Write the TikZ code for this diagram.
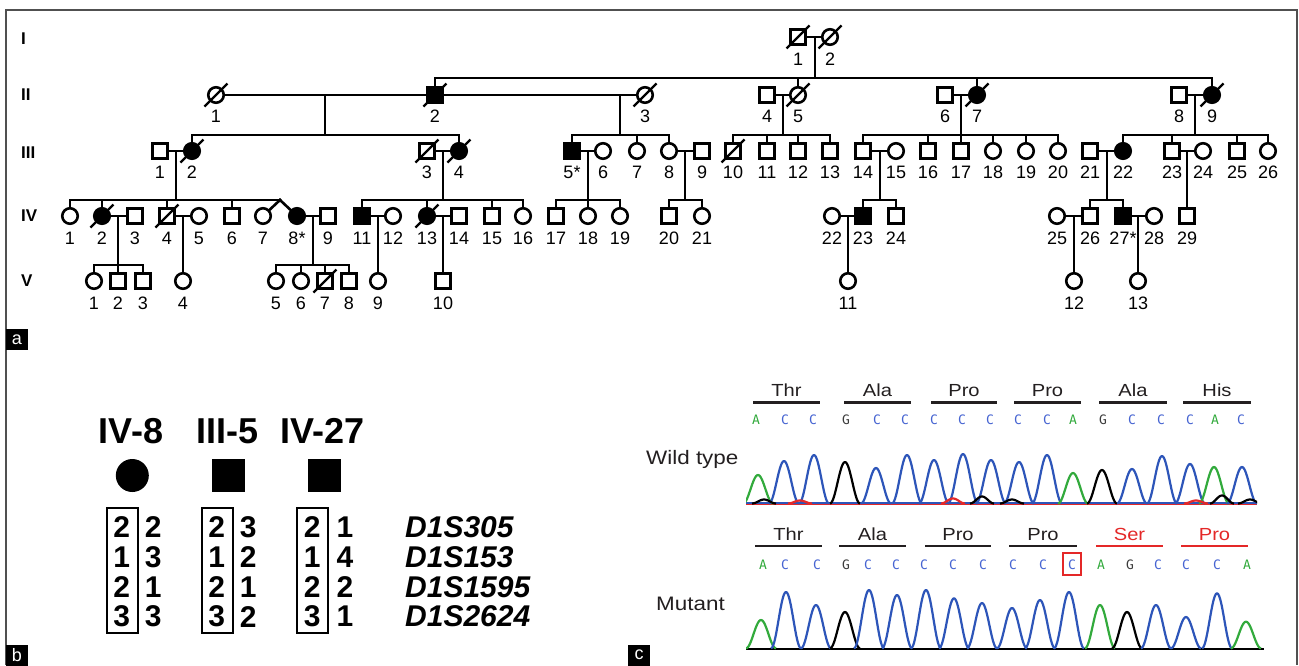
\documentclass[tikz,border=0pt]{standalone}
\usepackage{fontspec}
\setmainfont{Liberation Sans}
\newfontfamily\widesans[FakeStretch=1.15]{Liberation Sans}
\newfontfamily\basefont{DejaVu Sans Mono}
\usetikzlibrary{calc}
\definecolor{tblue}{RGB}{45,85,185}
\definecolor{lblue}{RGB}{70,100,210}
\definecolor{tgreen}{RGB}{50,170,60}
\definecolor{tred}{RGB}{228,40,40}
\definecolor{framec}{RGB}{80,80,80}
\definecolor{ink}{RGB}{35,31,32}
\definecolor{gbase}{RGB}{60,60,60}
\begin{document}
\begin{tikzpicture}[x=1pt,y=-1pt,
  pl/.style={line width=2.6pt,line cap=rect},
  sym/.style={draw,line width=2.6pt,inner sep=0pt,fill=white},
  mo/.style={sym,rectangle,minimum size=15pt},
  ma/.style={mo,fill=black},
  fo/.style={sym,circle,minimum size=15.5pt},
  fa/.style={fo,fill=black},
  lab/.style={inner sep=0pt,font=\fontsize{18}{18}\selectfont},
  gen/.style={inner sep=0pt,anchor=west,font=\fontsize{17}{17}\selectfont\bfseries},
  plabel/.style={fill=black,text=white,minimum width=22pt,minimum height=21pt,inner sep=0pt,font=\fontsize{18}{18}\selectfont},
  ttl/.style={inner sep=0pt,font=\fontsize{36}{36}\selectfont\bfseries},
  allele/.style={inner sep=0pt,font=\fontsize{30}{30}\selectfont\bfseries},
  marker/.style={inner sep=0pt,anchor=west,font=\fontsize{30}{30}\selectfont\bfseries\itshape},
  wide/.style={inner sep=0pt,text=ink,font=\fontsize{19.5}{20}\selectfont\widesans},
  codl/.style={inner sep=0pt,anchor=base,font=\fontsize{17.5}{18}\selectfont\widesans},
  cod/.style={line width=2.4pt},
  basel/.style={inner sep=0pt,font=\fontsize{13}{13}\selectfont\basefont},
  trace/.style={line width=2.2pt,line join=round}
]
\useasboundingbox (0,0) rectangle (1299,665);
\fill[white] (0,0) rectangle (1299,665);
\draw[framec,line width=1.3pt] (6,665) -- (6,10) -- (1297,10) -- (1297,665);

% ---------------- panel a : pedigree ----------------
\node[gen] (gI) at (21,39) {I};
\node[gen] (gII) at (21,95) {II};
\node[gen] (gIII) at (21,153) {III};
\node[gen] (gIV) at (21,216) {IV};
\node[gen] (gV) at (21,281) {V};

\foreach \x/\n/\s/\t in {798/1/mo/1,830/2/fo/2}
  {\node[\s] (g1-\n) at (\x,37) {}; \node[lab] (l1-\n) at (\x,59.5) {\t};}
\foreach \x/\n/\s/\t in {216/1/fo/1,435/2/ma/2,645/3/fo/3,767/4/mo/4,798/5/fo/5,945/6/mo/6,977/7/fa/7,1179/8/mo/8,1212/9/fa/9}
  {\node[\s] (g2-\n) at (\x,95) {}; \node[lab] (l2-\n) at (\x,116) {\t};}
\foreach \x/\n/\s/\t in {160/1/mo/1,192/2/fa/2,427/3/mo/3,459/4/fa/4,572/5/ma/5*,603/6/fo/6,637/7/fo/7,669/8/fo/8,702/9/mo/9,733/10/mo/10,767/11/mo/11,798/12/mo/12,830/13/mo/13,863/14/mo/14,896/15/fo/15,928/16/mo/16,961/17/mo/17,993/18/fo/18,1026/19/fo/19,1058/20/fo/20,1090/21/mo/21,1123/22/fa/22,1172/23/mo/23,1203/24/fo/24,1237/25/mo/25,1268/26/fo/26}
  {\node[\s] (g3-\n) at (\x,151) {}; \node[lab] (l3-\n) at (\x,172.5) {\t};}
\foreach \x/\n/\s/\t in {70/1/fo/1,102/2/fa/2,135/3/mo/3,167/4/mo/4,199/5/fo/5,232/6/mo/6,263/7/fo/7,297/8/fa/8*,328/9/mo/9,362/11/ma/11,393/12/fo/12,427/13/fa/13,459/14/mo/14,492/15/mo/15,523/16/fo/16,556/17/mo/17,588/18/fo/18,620/19/fo/19,669/20/mo/20,702/21/fo/21,832/22/fo/22,863/23/ma/23,896/24/mo/24,1057/25/fo/25,1090/26/mo/26,1123/27/ma/27*,1154/28/fo/28,1187/29/mo/29}
  {\node[\s] (g4-\n) at (\x,216) {}; \node[lab] (l4-\n) at (\x,238) {\t};}
\foreach \x/\n/\s/\t in {94/1/fo/1,118/2/mo/2,143/3/mo/3,183/4/fo/4,276/5/fo/5,301/6/fo/6,325/7/mo/7,349/8/mo/8,378/9/fo/9,443/10/mo/10,848/11/fo/11,1074/12/fo/12,1138/13/fo/13}
  {\node[\s] (g5-\n) at (\x,281) {}; \node[lab] (l5-\n) at (\x,303) {\t};}

\coordinate (sII) at (0,78);
\coordinate (sIII) at (0,135);
\coordinate (sIV) at (0,200);
\coordinate (sV) at (0,265);

\begin{scope}[pl]
% matings
\foreach \a/\b in {1-1/1-2,2-1/2-2,2-2/2-3,2-4/2-5,2-6/2-7,2-8/2-9,3-1/3-2,3-3/3-4,3-5/3-6,3-8/3-9,3-14/3-15,3-21/3-22,3-23/3-24,4-2/4-3,4-4/4-5,4-8/4-9,4-11/4-12,4-13/4-14,4-22/4-23,4-25/4-26,4-27/4-28}
  \draw (g\a.east) -- (g\b.west);
% generation I -> II
\coordinate (dI) at (815,37);
\draw (dI) -- (dI |- sII);
\draw (g2-2 |- sII) -- (g2-9 |- sII);
\foreach \k in {2,5,7,9} \draw (g2-\k |- sII) -- (g2-\k.north);
% generation II -> III
\coordinate (d21) at (325,95);
\coordinate (d22) at (620,95);
\coordinate (d24) at (783,95);
\coordinate (d26) at (961,95);
\coordinate (d28) at (1195,95);
\foreach \d in {d21,d22,d24,d26,d28} \draw (\d) -- (\d |- sIII);
\draw (g3-2 |- sIII) -- (g3-4 |- sIII);
\draw (g3-5 |- sIII) -- (g3-8 |- sIII);
\draw (g3-10 |- sIII) -- (g3-13 |- sIII);
\draw (g3-14 |- sIII) -- (g3-20 |- sIII);
\draw (g3-22 |- sIII) -- (g3-26 |- sIII);
\foreach \k in {2,4,5,7,8,10,11,12,13,14,16,17,18,19,20,22,23,25,26} \draw (g3-\k |- sIII) -- (g3-\k.north);
% generation III -> IV
\coordinate (d31) at (176,151);
\coordinate (d33) at (443,151);
\coordinate (d35) at (588,151);
\coordinate (d38) at (685,151);
\coordinate (d314) at (880,151);
\coordinate (d321) at (1107,151);
\coordinate (d323) at (1187,151);
\foreach \d in {d31,d33,d35,d38,d314,d321} \draw (\d) -- (\d |- sIV);
\draw (d323) -- (g4-29.north);
\coordinate (tw) at (280,200);
\draw (g4-1 |- sIV) -- (tw);
\draw (tw) -- (g4-7);
\draw (tw) -- (g4-8);
\draw (g4-11 |- sIV) -- (g4-16 |- sIV);
\draw (g4-17 |- sIV) -- (g4-19 |- sIV);
\draw (g4-20 |- sIV) -- (g4-21 |- sIV);
\draw (g4-23 |- sIV) -- (g4-24 |- sIV);
\draw (g4-26 |- sIV) -- (g4-27 |- sIV);
\foreach \k in {1,2,4,6,11,13,15,16,17,18,19,20,21,23,24,26,27} \draw (g4-\k |- sIV) -- (g4-\k.north);
% generation IV -> V
\coordinate (d42) at (118,216);
\coordinate (d48) at (313,216);
\foreach \d in {d42,d48} \draw (\d) -- (\d |- sV);
\draw (g5-1 |- sV) -- (g5-3 |- sV);
\draw (g5-5 |- sV) -- (g5-8 |- sV);
\foreach \k in {1,2,3,5,6,7,8} \draw (g5-\k |- sV) -- (g5-\k.north);
\coordinate (d44) at (183,216);
\coordinate (d411) at (378,216);
\coordinate (d413) at (443,216);
\coordinate (d422) at (848,216);
\coordinate (d425) at (1074,216);
\coordinate (d427) at (1138,216);
\draw (d44) -- (g5-4.north);
\draw (d411) -- (g5-9.north);
\draw (d413) -- (g5-10.north);
\draw (d422) -- (g5-11.north);
\draw (d425) -- (g5-12.north);
\draw (d427) -- (g5-13.north);
\end{scope}
% deceased
\foreach \p in {g1-1,g1-2,g2-1,g2-2,g2-3,g2-5,g2-7,g2-9,g3-2,g3-3,g3-4,g3-10,g4-2,g4-4,g4-13,g5-7}
  \draw[line width=2.4pt] ([shift={(-11.5,11.5)}]\p.center) -- ([shift={(11.5,-11.5)}]\p.center);

\node[plabel] (pa) at (17,339.5) {a};

% ---------------- panel b : haplotypes ----------------
\node[plabel] (pb) at (17,655) {b};
\node[ttl] (t1) at (131,431) {IV-8};
\node[ttl] (t2) at (227.5,431) {III-5};
\node[ttl] (t3) at (322.5,431) {IV-27};
\node[circle,fill=black,minimum size=33pt,inner sep=0pt] (s1) at (132.3,475.5) {};
\node[rectangle,fill=black,minimum size=33pt,inner sep=0pt] (s2) at (228,475.5) {};
\node[rectangle,fill=black,minimum size=33pt,inner sep=0pt] (s3) at (324,475.5) {};
\foreach \x/\i in {122.3/1,217.3/2,312.7/3}
  \node[draw,line width=2pt,minimum width=31.3pt,minimum height=125pt,inner sep=0pt] (h\i) at (\x,570.5) {};
\foreach \r/\y/\a/\b/\c/\d/\e/\f/\m in {1/527.5/2/2/2/3/2/1/D1S305,2/557.2/1/3/1/2/1/4/D1S153,3/586.9/2/1/2/1/2/2/D1S1595,4/616.6/3/3/3/2/3/1/D1S2624}{
  \node[allele] (a\r-1) at (121.7,\y) {\a};
  \node[allele] (a\r-2) at (153.3,\y) {\b};
  \node[allele] (a\r-3) at (216.7,\y) {\c};
  \node[allele] (a\r-4) at (248.3,\y) {\d};
  \node[allele] (a\r-5) at (312.3,\y) {\e};
  \node[allele] (a\r-6) at (345,\y) {\f};
  \node[marker] (m\r) at (405,\y) {\m};
}

% ---------------- panel c : sequencing ----------------
\node[plabel] (pc) at (639,655) {c};
\node[wide,anchor=base west] (wt) at (646,464) {Wild type};
\node[wide,anchor=base west] (mu) at (656,610.7) {Mutant};

\foreach \a/\b/\t/\col [count=\i] in {753/820/Thr/ink,844/911/Ala/ink,931/997/Pro/ink,1014/1081/Pro/ink,1099/1167/Ala/ink,1183/1251/His/ink}{
  \draw[cod,\col] (\a,402.3) -- (\b,402.3);
  \node[codl,text=\col] (cw\i) at ({(\a+\b)/2},396) {\t};
}
\foreach \a/\b/\t/\col [count=\i] in {755/822/Thr/ink,839/906/Ala/ink,925/991/Pro/ink,1009/1077/Pro/ink,1096/1163/Ser/tred,1181/1248/Pro/tred}{
  \draw[cod,\col] (\a,546) -- (\b,546);
  \node[codl,text=\col] (cm\i) at ({(\a+\b)/2},540) {\t};
}
\foreach \x/\l/\col [count=\i] in {756/A/tgreen,785/C/lblue,813/C/lblue,846/G/gbase,877/C/lblue,905/C/lblue,934/C/lblue,962/C/lblue,990/C/lblue,1018/C/lblue,1047/C/lblue,1073/A/tgreen,1103/G/gbase,1132/C/lblue,1161/C/lblue,1190/C/lblue,1215/A/tgreen,1241/C/lblue}
  \node[basel,text=\col] (bw\i) at (\x,420) {\l};
\foreach \x/\l/\col [count=\i] in {763/A/tgreen,785/C/lblue,817/C/lblue,846/G/gbase,868/C/lblue,896/C/lblue,924/C/lblue,953/C/lblue,983/C/lblue,1013/C/lblue,1043/C/lblue,1072/C/lblue,1101/A/tgreen,1130/G/gbase,1158/C/lblue,1186/C/lblue,1217/C/lblue,1247/A/tgreen}
  \node[basel,text=\col] (bm\i) at (\x,564.3) {\l};
\node[draw=tred,line width=2pt,minimum width=18pt,minimum height=22pt,inner sep=0pt] (rb) at (1072,564) {};

% wild type trace
\begin{scope}
\clip (746,430) rectangle (1257,507);
\draw[tblue,line width=1.4pt] (746,503) -- (1257,503);
\draw[tred,line width=1.2pt] (746,504.5) -- (1257,504.5);
\foreach \c/\h/\col in {758/28.5/tgreen,784/42.5/tblue,814/48.5/tblue,845/41.5/black,876/35.5/tblue,907/48.5/tblue,934/43.5/tblue,963/49.5/tblue,991/43.5/tblue,1019/41.5/tblue,1047/48.5/tblue,1073/30.5/tgreen,1102/33.5/black,1132/34.5/tblue,1162/47.5/tblue,1190/39.5/tblue,1214/36.5/tgreen,1242/36.5/tblue}
  \draw[trace,\col] plot[domain=\c-15:\c+15,samples=31,smooth] (\x,{503.5-\h*(0.5+0.5*cos(12*(\x-\c)))});
\foreach \c/\h/\col in {764/4/black,982/7/black,1012/4/black,1222/8/black,1250/4/black,800/3/tred,953/5/tred,1196/3/tred}
  \draw[trace,\col] plot[domain=\c-12:\c+12,samples=25,smooth] (\x,{503.5-\h*(0.5+0.5*cos(15*(\x-\c)))});
\end{scope}

% mutant trace
\begin{scope}
\clip (746,575) rectangle (1264,651);
\draw[black,line width=2pt] (746,648.5) -- (1264,648.5);
\foreach \c/\h/\col in {761/28.3/tgreen,786/56.3/tblue,816/43.3/tblue,845/36.3/black,869/58.3/tblue,897/53.3/tblue,926/58.3/tblue,954/50/tblue,982/45.3/tblue,1012/40.3/tblue,1040/48.3/tblue,1069/56.3/tblue,1100/43.3/tgreen,1127/36.3/black,1156/43.3/tblue,1186/31.3/tblue,1217/55/tblue,1246/26.6/tgreen}
  \draw[trace,\col] plot[domain=\c-15:\c+15,samples=31,smooth] (\x,{648.3-\h*(0.5+0.5*cos(12*(\x-\c)))});
\end{scope}
\end{tikzpicture}
\end{document}
